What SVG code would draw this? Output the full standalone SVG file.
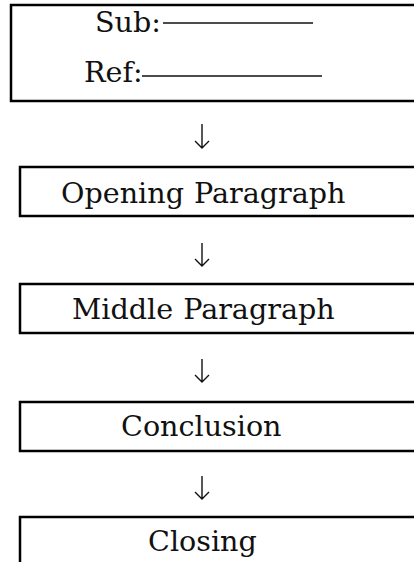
<svg xmlns="http://www.w3.org/2000/svg" width="414" height="562" viewBox="0 0 414 562">
<style>
.box{fill:#fff;stroke:#000;stroke-width:2.5}
.t{font-family:"DejaVu Serif","Liberation Serif",serif;font-size:28.6px;fill:#111;word-spacing:1px}
.ln{stroke:#111;stroke-width:1.4}
.arr{stroke:#111;stroke-width:1.4;fill:none}
</style>
<rect width="414" height="562" fill="#fff"/>
<g id="header">
<rect class="box" x="11" y="5" width="420" height="96"/>
<text class="t" x="95" y="32">Sub:</text>
<line class="ln" x1="163" y1="23" x2="313" y2="23"/>
<text class="t" x="84" y="82">Ref:</text>
<line class="ln" x1="142" y1="76" x2="322" y2="76"/>
</g>
<g id="opening">
<rect class="box" x="20" y="167" width="420" height="49"/>
<text class="t" x="61" y="203">Opening Paragraph</text>
</g>
<g id="middle">
<rect class="box" x="20" y="284" width="420" height="49"/>
<text class="t" x="72" y="319">Middle Paragraph</text>
</g>
<g id="conclusion">
<rect class="box" x="20" y="402" width="420" height="49"/>
<text class="t" x="121" y="436">Conclusion</text>
</g>
<g id="closing">
<rect class="box" x="20" y="517" width="420" height="60"/>
<text class="t" x="148" y="551">Closing</text>
</g>
<g id="connectors">
<path class="arr" d="M202 124V148M195 141L202 148L209 141"/>
<path class="arr" d="M202 243V266M195 259L202 266L209 259"/>
<path class="arr" d="M202 359V382M195 375L202 382L209 375"/>
<path class="arr" d="M202 476V499M195 492L202 499L209 492"/>
</g>
</svg>
